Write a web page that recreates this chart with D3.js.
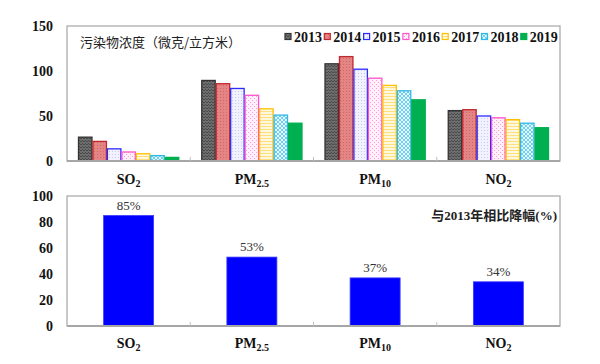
<!DOCTYPE html>
<html><head><meta charset="utf-8">
<script src="https://cdn.jsdelivr.net/npm/d3@7"></script>
<style>body{margin:0;background:#fff}svg{display:block}</style>
</head><body><svg id="c" width="600" height="364"></svg>
<script>
const categories = ["SO2","PM2.5","PM10","NO2"];
const years = ["2013","2014","2015","2016","2017","2018","2019"];
const v2013 = [26.5, 89.5, 108, 56];
const v2014 = [21.8, 85.9, 116, 57];
const v2015 = [13.5, 80.6, 102, 50];
const v2016 = [10, 73, 92, 48];
const v2017 = [8, 58, 84, 46];
const v2018 = [6, 51, 78, 42];
const v2019 = [4, 42, 68, 37];
const reduction = [85, 53, 37, 34];
const topTicks = [0, 50, 100, 150];
const bottomTicks = [0, 20, 40, 60, 80, 100];
const topTitle = "污染物浓度（微克/立方米）";
const bottomTitle = "与2013年相比降幅(%)";

const series = [v2013, v2014, v2015, v2016, v2017, v2018, v2019];
const svg = d3.select("#c");
const serif = "Liberation Serif, serif";

// patterns
const defs = svg.append("defs");
function pat(id, bg, draw, size){
  const p = defs.append("pattern").attr("id", id).attr("patternUnits","userSpaceOnUse")
    .attr("width", size).attr("height", size);
  p.append("rect").attr("width", size).attr("height", size).attr("fill", bg);
  draw(p);
}
pat("p2013", "#6e6e6e", p => { p.append("path").attr("d","M0,0L1,1M2,0L3,1M1,2L2,3").attr("stroke","#4a4a4a").attr("stroke-width",1); }, 3);
pat("p2014", "#e48585", p => { p.append("rect").attr("x",1).attr("y",1).attr("width",1).attr("height",1).attr("fill","#d06666"); }, 3);
pat("p2015", "#f2f2ff", p => { p.append("rect").attr("x",1).attr("y",1).attr("width",1).attr("height",1).attr("fill","#c8c8f5"); }, 3);
pat("p2016", "#fff0fa", p => { p.append("rect").attr("x",0).attr("y",0).attr("width",1).attr("height",1).attr("fill","#ff99dd"); p.append("rect").attr("x",2).attr("y",2).attr("width",1).attr("height",1).attr("fill","#ff99dd"); }, 4);
pat("p2017", "#fff8dc", p => { p.append("rect").attr("x",0).attr("y",0).attr("width",3).attr("height",1).attr("fill","#ffdf80"); }, 3);
pat("p2018", "#e6f7fd", p => { p.append("path").attr("d","M0,0L4,4M4,0L0,4").attr("stroke","#6fd0f2").attr("stroke-width",1); }, 4);
const fills = ["url(#p2013)","url(#p2014)","url(#p2015)","url(#p2016)","url(#p2017)","url(#p2018)","#00b050"];
const strokes = ["#333333","#c0282d","#2b2bff","#ff55cc","#ffc000","#30b8e8","#00b050"];

const L = 67, R = 560;
const x = d3.scaleBand().domain(categories).range([L, R]).paddingInner(0).paddingOuter(0);
const xi = d3.scaleBand().domain(years).range([11, x.bandwidth() - 11]).padding(0);

function catLabel(g, c, xx, yy){
  const t = g.append("text").attr("x", xx).attr("y", yy).attr("text-anchor","middle")
    .style("font-family", serif).style("font-weight","bold").style("font-size","14px").attr("fill","#111");
  const m = c.match(/^([A-Z]+)(.*)$/);
  t.append("tspan").text(m[1]);
  t.append("tspan").style("font-size","10px").attr("dy",3).text(m[2]);
}

// ---------- top chart ----------
const T1 = 26, B1 = 161;
const y1 = d3.scaleLinear().domain([0,150]).range([B1, T1]);
const g1 = svg.append("g");
g1.append("rect").attr("x",L).attr("y",T1).attr("width",R-L).attr("height",B1-T1)
  .attr("fill","none").attr("stroke","#a6a6a6").attr("stroke-width",1.2);
years.forEach((yr, k) => {
  g1.selectAll(null).data(series[k]).join("rect")
    .attr("x", (d,i) => x(categories[i]) + xi(yr) + 0.5)
    .attr("y", d => y1(d))
    .attr("width", xi.bandwidth() - 1)
    .attr("height", d => y1(0) - y1(d))
    .attr("fill", fills[k]).attr("stroke", strokes[k]).attr("stroke-width", 1.3);
});
g1.append("line").attr("x1",L).attr("x2",R).attr("y1",B1).attr("y2",B1).attr("stroke","#a6a6a6").attr("stroke-width",2);
categories.slice(1).forEach(c => g1.append("line").attr("x1",x(c)).attr("x2",x(c)).attr("y1",B1).attr("y2",B1-4).attr("stroke","#c0c0c0"));
g1.selectAll(".yt").data(topTicks).join("text")
  .attr("x", 53).attr("y", d => y1(d) + 5).attr("text-anchor","end")
  .style("font-family", serif).style("font-weight","bold").style("font-size","14px").attr("fill","#111")
  .text(d => d);
g1.append("text").attr("x",80).attr("y",47).style("font-family","Noto Sans CJK SC, sans-serif")
  .style("font-size","13px").attr("fill","#222").text(topTitle);
categories.forEach(c => catLabel(g1, c, x(c) + x.bandwidth()/2, 184));
// legend
const lg = g1.append("g");
years.forEach((yr, k) => {
  const lx = 285 + k * 39.3;
  lg.append("rect").attr("x", lx).attr("y", 33.5).attr("width", 6).attr("height", 6)
    .attr("fill", fills[k]).attr("stroke", strokes[k]).attr("stroke-width", 1.2);
  lg.append("text").attr("x", lx + 9).attr("y", 41.5).style("font-family", serif)
    .style("font-weight","bold").style("font-size","14px").attr("fill","#111").text(yr);
});

// ---------- bottom chart ----------
const T2 = 196, B2 = 326;
const y2 = d3.scaleLinear().domain([0,100]).range([B2, T2]);
const g2 = svg.append("g");
g2.append("rect").attr("x",L).attr("y",T2).attr("width",R-L).attr("height",B2-T2)
  .attr("fill","none").attr("stroke","#a6a6a6").attr("stroke-width",1.2);
const bw = 50;
g2.selectAll(".b").data(reduction).join("rect")
  .attr("x", (d,i) => x(categories[i]) + x.bandwidth()/2 - bw/2)
  .attr("y", d => y2(d)).attr("width", bw).attr("height", d => y2(0) - y2(d))
  .attr("fill","#0000ff").attr("stroke","#3a3aff").attr("stroke-width",0.8);
g2.selectAll(".bl").data(reduction).join("text")
  .attr("x", (d,i) => x(categories[i]) + x.bandwidth()/2)
  .attr("y", d => y2(d) - 6).attr("text-anchor","middle")
  .style("font-family", serif).style("font-size","13px").attr("fill","#333")
  .text(d => d + "%");
g2.append("line").attr("x1",L).attr("x2",R).attr("y1",B2).attr("y2",B2).attr("stroke","#a6a6a6").attr("stroke-width",2);
categories.slice(1).forEach(c => g2.append("line").attr("x1",x(c)).attr("x2",x(c)).attr("y1",B2).attr("y2",B2-4).attr("stroke","#c0c0c0"));
g2.selectAll(".yt").data(bottomTicks).join("text")
  .attr("x", 53).attr("y", d => y2(d) + 5).attr("text-anchor","end")
  .style("font-family", serif).style("font-weight","bold").style("font-size","14px").attr("fill","#111")
  .text(d => d);
g2.append("text").attr("x",557).attr("y",220).attr("text-anchor","end")
  .style("font-family", "Liberation Serif, Noto Sans CJK SC, serif").style("font-weight","bold").style("font-size","13px").attr("fill","#222").text(bottomTitle);
categories.forEach(c => catLabel(g2, c, x(c) + x.bandwidth()/2, 348));
</script></body></html>
